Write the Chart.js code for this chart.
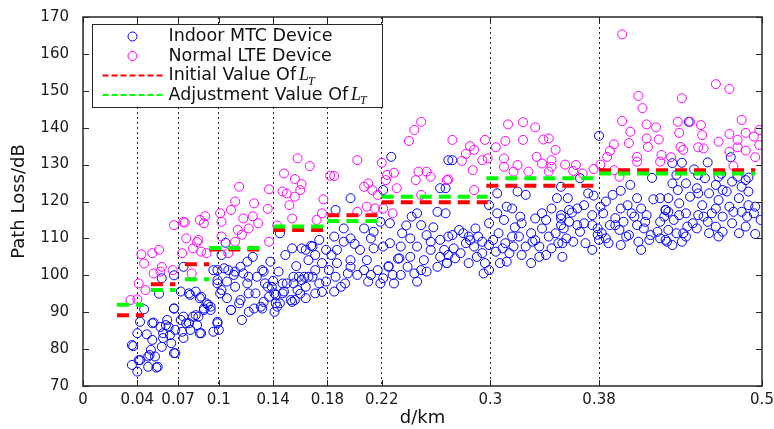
<!DOCTYPE html>
<html>
<head>
<meta charset="utf-8">
<script src="https://cdn.jsdelivr.net/npm/chart.js@4.4.0/dist/chart.umd.min.js"></script>
<style>
  html, body { margin: 0; padding: 0; background: #fff; }
  canvas { display: block; }
</style>
</head>
<body>
<canvas id="chart" width="774" height="429"></canvas>
<script>
// x axis ticks (distance thresholds, km)
const xTicks = [0, 0.04, 0.07, 0.1, 0.14, 0.18, 0.22, 0.3, 0.38, 0.5];

// threshold segments: start / end distance and L_T values (dB)
const segStart = [0.025, 0.050, 0.075, 0.093, 0.140, 0.180, 0.220, 0.297, 0.380];
const segEnd   = [0.045, 0.068, 0.093, 0.132, 0.177, 0.218, 0.298, 0.377, 0.495];
const initialLT = [89.2, 97.6, 103.0, 107.0, 112.3, 116.3, 119.8, 124.3, 128.5];
const adjustLT  = [92.0, 96.0, 98.9, 107.4, 113.2, 114.7, 121.3, 126.3, 127.6];

// Indoor MTC devices [d (km), path loss (dB)]
const mtcPoints = [
  [0.037,80.8],[0.040,73.9],[0.036,75.7],[0.042,77.0],[0.048,75.2],[0.054,75.0],[0.053,78.0],[0.049,78.4],
  [0.040,84.3],[0.047,84.0],[0.052,87.2],[0.051,82.5],[0.058,80.6],[0.067,78.9],[0.059,84.3],[0.063,86.0],
  [0.065,81.6],[0.067,91.0],[0.058,99.2],[0.056,95.0],[0.067,100.0],[0.045,90.8],[0.073,84.7],[0.074,83.0],
  [0.072,87.9],[0.079,94.7],[0.086,93.8],[0.081,88.8],[0.085,88.8],[0.086,84.3],[0.076,87.0],[0.074,102.3],
  [0.092,92.0],[0.094,90.6],[0.101,95.1],[0.089,91.0],[0.099,98.7],[0.099,101.4],
  [0.036,81.1],[0.041,77.0],[0.048,78.0],[0.055,75.2],[0.050,79.8],[0.042,87.4],[0.051,87.0],[0.057,86.0],
  [0.059,83.0],[0.064,83.8],[0.061,86.5],[0.068,85.2],[0.068,78.9],[0.062,87.9],[0.067,91.0],[0.074,88.8],
  [0.078,87.0],[0.079,85.2],[0.083,89.2],[0.087,84.3],[0.089,90.6],[0.096,84.7],[0.099,87.4],[0.094,91.5],
  [0.084,86.5],[0.078,95.1],[0.083,95.6],[0.087,94.2],[0.091,92.4],[0.072,95.6],
  [0.096,101.4],[0.104,101.9],[0.099,97.8],[0.106,98.3],[0.111,100.1],[0.109,90.6],[0.117,87.9],[0.116,93.3],
  [0.122,95.1],[0.126,91.0],[0.131,91.5],[0.133,101.0],[0.141,95.1],[0.143,91.5],[0.133,92.8],[0.153,93.3],
  [0.155,97.8],[0.161,98.7],[0.166,99.6],[0.148,95.6],[0.136,96.9],
  [0.102,105.5],[0.121,103.7],[0.138,103.7],[0.145,111.4],[0.154,107.3],[0.161,107.3],[0.149,105.5],[0.144,101.0],
  [0.150,97.8],[0.159,99.6],[0.166,104.1],[0.171,105.5],[0.176,103.3],[0.181,101.4],[0.164,96.9],[0.174,97.8],
  [0.179,98.3],[0.164,93.8],[0.154,92.8],[0.142,94.7],[0.137,94.2],[0.141,90.1],[0.132,91.0],[0.122,90.1],
  [0.109,90.6],[0.115,92.4],[0.106,93.8],[0.102,96.0],[0.112,96.9],[0.121,97.8],[0.128,99.6],[0.132,101.4],
  [0.112,101.0],[0.107,101.4],[0.145,92.4],[0.147,95.1],[0.155,99.6],[0.127,95.1],[0.099,87.0],[0.100,85.2],
  [0.174,109.6],[0.171,101.4],[0.183,105.5],[0.163,99.6],[0.105,108.8],[0.125,105.0],[0.168,108.0],[0.157,102.5],
  [0.140,98.5],[0.118,100.5],[0.176,95.5],[0.160,95.0],
  [0.139,96.9],[0.147,97.8],[0.158,96.0],[0.169,99.6],[0.171,95.1],[0.142,92.4],[0.156,93.3],[0.134,97.8],
  [0.122,99.6],[0.116,102.3],[0.164,106.9],[0.179,106.9],[0.169,107.8],
  [0.227,132.1],[0.269,131.2],[0.197,120.9],[0.221,123.1],[0.263,123.6],[0.186,117.7],[0.246,116.8],[0.261,117.2],
  [0.242,115.9],[0.249,113.6],[0.226,114.1],[0.219,114.5],[0.207,112.7],[0.192,112.7],[0.214,111.8],[0.185,110.5],
  [0.197,110.0],[0.235,111.4],[0.241,110.0],[0.253,110.9],[0.263,109.6],[0.269,110.5],[0.187,106.9],[0.204,106.9],
  [0.214,107.3],[0.221,107.8],[0.234,107.8],[0.246,107.8],[0.256,106.9],[0.233,104.6],[0.241,105.0],[0.251,104.1],
  [0.263,105.0],[0.268,103.3],[0.187,103.3],[0.197,104.1],[0.209,104.1],[0.217,101.4],[0.186,99.6],[0.195,100.5],
  [0.202,100.1],[0.212,100.1],[0.221,99.2],[0.228,100.1],[0.234,100.1],[0.244,100.5],[0.253,101.0],[0.210,98.3],
  [0.185,95.6],[0.190,96.9],[0.232,104.5],[0.225,102.5],[0.200,108.5],[0.258,113.0],[0.238,113.5],
  [0.192,109.1],[0.212,110.0],[0.226,108.7],[0.256,109.1],[0.266,106.9],[0.197,102.3],[0.207,101.4],[0.225,102.3],
  [0.239,102.3],[0.249,101.4],[0.261,102.3],[0.193,97.8],[0.219,97.8],[0.246,98.3],[0.229,97.8],
  [0.272,131.2],[0.267,123.6],[0.305,122.2],[0.320,122.7],[0.326,121.8],[0.349,120.9],[0.299,119.0],[0.316,118.1],
  [0.305,116.8],[0.310,115.0],[0.299,114.1],[0.267,116.8],[0.338,116.8],[0.345,118.1],[0.341,115.0],[0.323,114.1],
  [0.352,115.4],[0.272,110.9],[0.280,111.4],[0.289,112.7],[0.291,110.5],[0.306,111.4],[0.316,110.5],[0.330,111.4],
  [0.338,112.7],[0.348,111.4],[0.273,107.3],[0.282,108.7],[0.288,107.8],[0.299,108.2],[0.311,108.7],[0.326,107.8],
  [0.336,107.8],[0.350,108.7],[0.269,105.5],[0.278,106.0],[0.294,106.0],[0.304,106.4],[0.314,106.0],[0.323,105.5],
  [0.341,105.5],[0.284,103.3],[0.296,103.3],[0.312,103.7],[0.299,101.4],[0.336,105.0],[0.268,103.3],[0.285,109.5],
  [0.318,113.0],[0.333,109.5],[0.295,100.5],
  [0.277,112.3],[0.284,110.5],[0.294,109.1],[0.302,109.6],[0.309,107.3],[0.317,107.8],[0.321,110.5],[0.331,109.1],
  [0.343,110.5],[0.345,107.3],[0.330,103.3],[0.307,103.3],[0.290,105.0],[0.274,104.6],[0.353,105.0],[0.333,115.4],
  [0.312,118.6],[0.322,115.9],
  [0.380,137.8],[0.366,126.3],[0.419,126.4],[0.352,124.0],[0.372,122.2],[0.376,121.6],[0.403,124.5],[0.396,122.9],
  [0.390,121.8],[0.385,120.0],[0.408,120.9],[0.420,120.6],[0.357,120.9],[0.364,118.1],[0.396,118.1],[0.411,118.1],
  [0.375,116.3],[0.383,116.8],[0.404,116.8],[0.415,116.3],[0.429,117.7],[0.358,114.5],[0.369,114.1],[0.388,113.6],
  [0.398,114.5],[0.408,113.6],[0.425,114.5],[0.354,112.7],[0.366,111.8],[0.379,112.7],[0.395,112.3],[0.413,112.7],
  [0.423,111.8],[0.353,108.7],[0.361,109.1],[0.370,108.7],[0.380,109.6],[0.387,108.7],[0.396,108.2],[0.409,109.1],
  [0.417,109.6],[0.430,109.1],[0.375,106.9],[0.411,106.9],[0.379,111.0],[0.392,115.5],[0.360,117.0],[0.400,110.5],
  [0.356,110.0],[0.364,113.6],[0.375,113.6],[0.382,111.4],[0.385,110.0],[0.392,113.6],[0.402,110.9],[0.406,115.9],
  [0.414,114.5],[0.418,110.9],[0.425,110.0],[0.401,119.0],[0.381,118.6],[0.369,119.0],[0.358,117.7],[0.352,116.3],
  [0.352,113.6],[0.425,120.9],[0.428,115.9],
  [0.446,141.6],[0.460,130.6],[0.477,132.0],[0.434,130.4],[0.441,130.5],[0.450,128.7],[0.458,126.3],[0.478,125.4],
  [0.434,124.9],[0.444,124.9],[0.466,124.5],[0.485,124.0],[0.438,123.1],[0.452,123.6],[0.471,123.1],[0.490,122.7],
  [0.461,122.2],[0.431,120.9],[0.447,121.3],[0.468,120.4],[0.483,120.9],[0.439,119.5],[0.456,119.0],[0.476,118.6],
  [0.490,119.0],[0.431,117.2],[0.444,116.8],[0.453,116.3],[0.463,116.8],[0.485,117.2],[0.494,116.8],[0.435,115.0],
  [0.449,114.1],[0.460,114.5],[0.471,115.9],[0.478,114.1],[0.499,115.0],[0.431,112.3],[0.442,111.4],[0.452,112.7],
  [0.461,111.4],[0.471,111.8],[0.483,111.4],[0.495,111.2],[0.434,108.2],[0.444,110.5],[0.490,126.5],[0.470,127.5],
  [0.429,117.7],[0.439,116.3],[0.457,115.9],[0.466,118.1],[0.479,117.2],[0.489,115.9],[0.495,118.6],[0.453,122.2],
  [0.474,122.7],[0.482,126.7],[0.488,125.8],[0.468,126.7],[0.437,127.2],[0.453,127.2],[0.445,113.2],[0.466,113.2],
  [0.488,113.2],[0.437,111.4],[0.468,110.5],[0.429,109.6],[0.441,109.1]
];

// Normal LTE devices [d (km), path loss (dB)]
const ltePoints = [
  [0.035,93.3],[0.040,93.5],[0.041,97.8],[0.046,96.0],[0.045,103.2],[0.043,105.7],[0.051,106.0],[0.056,106.9],
  [0.052,100.5],[0.058,102.3],[0.057,101.0],[0.067,113.6],[0.073,106.0],[0.076,110.0],[0.081,107.3],[0.085,109.6],
  [0.087,106.4],[0.080,100.5],[0.089,114.1],[0.075,114.3],[0.091,106.0],[0.074,114.5],[0.086,115.0],[0.090,116.0],
  [0.084,109.0],[0.066,101.4],
  [0.115,124.0],[0.137,123.3],[0.112,120.0],[0.109,117.7],[0.101,116.8],[0.102,114.5],[0.118,115.4],[0.125,116.0],
  [0.114,112.3],[0.122,112.7],[0.129,114.1],[0.136,118.0],[0.102,110.5],[0.112,109.1],[0.107,106.0],[0.137,109.1],
  [0.158,131.7],[0.167,129.6],[0.148,127.6],[0.156,126.1],[0.161,124.7],[0.147,122.7],[0.150,122.2],[0.156,121.3],
  [0.160,123.1],[0.152,119.0],[0.154,115.4],[0.177,120.6],[0.176,116.8],[0.172,115.0],[0.182,127.0],[0.126,119.5],
  [0.117,111.0],[0.143,113.5],
  [0.249,141.6],[0.244,139.4],[0.240,136.4],[0.202,131.2],[0.220,130.5],[0.185,126.9],[0.224,127.2],[0.229,127.8],
  [0.223,125.8],[0.247,128.1],[0.253,128.1],[0.245,125.8],[0.256,126.7],[0.268,125.8],[0.210,124.9],[0.213,123.1],
  [0.207,124.0],[0.217,121.8],[0.231,123.6],[0.249,121.8],[0.209,118.6],[0.215,118.1],[0.202,117.2],[0.228,116.8],
  [0.221,118.1],
  [0.313,140.9],[0.324,141.5],[0.333,140.1],[0.272,136.7],[0.296,136.7],[0.311,136.4],[0.324,136.7],[0.339,136.8],
  [0.343,137.1],[0.285,135.0],[0.288,134.0],[0.304,134.7],[0.282,132.9],[0.279,131.0],[0.294,131.2],[0.298,131.7],
  [0.310,131.7],[0.334,132.1],[0.348,134.0],[0.287,128.5],[0.310,129.4],[0.320,129.9],[0.317,128.1],[0.328,128.1],
  [0.338,130.3],[0.345,129.4],[0.343,128.1],[0.269,126.0],[0.288,123.1],[0.345,131.2],[0.361,128.3],
  [0.397,165.3],[0.409,148.6],[0.412,145.3],[0.397,141.8],[0.403,138.9],[0.415,140.9],[0.422,140.1],[0.415,137.1],
  [0.424,136.8],[0.391,135.5],[0.402,135.8],[0.416,134.8],[0.388,133.7],[0.386,132.1],[0.408,132.1],[0.408,130.8],
  [0.426,132.6],[0.425,130.8],[0.355,130.0],[0.363,129.9],[0.368,127.6],[0.376,128.8],[0.381,130.0],[0.391,128.5],
  [0.395,126.7],
  [0.466,151.8],[0.476,150.5],[0.441,148.0],[0.438,141.6],[0.447,141.6],[0.455,140.7],[0.485,142.1],[0.439,138.6],
  [0.456,138.0],[0.476,138.3],[0.488,138.6],[0.498,139.4],[0.494,137.6],[0.482,136.7],[0.468,136.2],[0.440,134.8],
  [0.442,134.0],[0.453,134.7],[0.457,134.4],[0.476,133.5],[0.488,133.8],[0.482,134.7],[0.498,135.3],[0.495,132.0],
  [0.433,132.0],[0.479,129.6]
];

const FONT = 'DejaVu Sans';

function toXY(points) {
  return points.map(p => ({ x: p[0], y: p[1] }));
}

function stepData(values) {
  const out = [];
  values.forEach((v, i) => {
    out.push({ x: segStart[i], y: v }, { x: segEnd[i], y: v }, { x: segEnd[i], y: null });
  });
  return out;
}

// MATLAB-like axes box, inward ticks and boxed legend
const matlabAxes = {
  id: 'matlabAxes',
  afterDatasetsDraw(chart) {
    const { ctx, chartArea: a, scales: { x, y } } = chart;
    ctx.save();
    ctx.strokeStyle = '#262626';
    ctx.lineWidth = 1;
    ctx.beginPath();
    xTicks.forEach(v => {
      const px = Math.round(x.getPixelForValue(v)) + 0.5;
      ctx.moveTo(px, a.bottom); ctx.lineTo(px, a.bottom - 6);
      ctx.moveTo(px, a.top); ctx.lineTo(px, a.top + 6);
    });
    y.ticks.forEach(t => {
      const py = Math.round(y.getPixelForValue(t.value)) + 0.5;
      ctx.moveTo(a.left, py); ctx.lineTo(a.left + 6, py);
      ctx.moveTo(a.right, py); ctx.lineTo(a.right - 6, py);
    });
    ctx.stroke();
    ctx.lineWidth = 1.5;
    ctx.strokeRect(a.left, a.top, a.right - a.left, a.bottom - a.top);
    ctx.restore();
  },
  afterDraw(chart) {
    const { ctx, chartArea: a } = chart;
    const bx = a.left + 9.5, by = a.top + 7.5, bw = 290, bh = 83;
    ctx.save();
    ctx.fillStyle = '#fff';
    ctx.fillRect(bx, by, bw, bh);
    ctx.strokeStyle = '#262626';
    ctx.lineWidth = 1;
    ctx.strokeRect(bx, by, bw, bh);
    ctx.textBaseline = 'middle';
    chart.data.datasets.forEach((ds, i) => {
      const cy = by + 12 + i * 19.5;
      if (ds.showLine) {
        ctx.strokeStyle = ds.borderColor;
        ctx.lineWidth = 2;
        ctx.setLineDash([6, 3]);
        ctx.beginPath();
        ctx.moveTo(bx + 10, cy); ctx.lineTo(bx + 71, cy);
        ctx.stroke();
        ctx.setLineDash([]);
      } else {
        ctx.strokeStyle = ds.pointBorderColor;
        ctx.lineWidth = 1;
        ctx.beginPath();
        ctx.arc(bx + 40, cy, 4.5, 0, Math.PI * 2);
        ctx.stroke();
      }
      ctx.fillStyle = '#111';
      ctx.font = '17.5px "' + FONT + '"';
      let tx = bx + 76;
      ctx.fillText(ds.label, tx, cy);
      if (ds.showLine) {
        tx += ctx.measureText(ds.label).width + 3;
        ctx.font = 'italic 18px "Liberation Serif"';
        ctx.fillText('L', tx, cy);
        tx += ctx.measureText('L').width;
        ctx.font = 'italic 12px "Liberation Serif"';
        ctx.fillText('T', tx - 1, cy + 6);
      }
    });
    ctx.restore();
  }
};

new Chart(document.getElementById('chart'), {
  type: 'scatter',
  data: {
    datasets: [
      {
        label: 'Indoor MTC Device',
        data: toXY(mtcPoints),
        pointStyle: 'circle',
        pointRadius: 4.5,
        pointBorderWidth: 1,
        pointBorderColor: '#0000ff',
        pointBackgroundColor: 'rgba(0,0,0,0)',
        order: 3
      },
      {
        label: 'Normal LTE Device',
        data: toXY(ltePoints),
        pointStyle: 'circle',
        pointRadius: 4.5,
        pointBorderWidth: 1,
        pointBorderColor: '#ff00ff',
        pointBackgroundColor: 'rgba(0,0,0,0)',
        order: 2
      },
      {
        label: 'Initial Value Of',
        data: stepData(initialLT),
        showLine: true,
        borderColor: '#ff0000',
        borderWidth: 4,
        borderDash: [12, 7],
        pointRadius: 0,
        order: 1
      },
      {
        label: 'Adjustment Value Of',
        data: stepData(adjustLT),
        showLine: true,
        borderColor: '#00ff00',
        borderWidth: 4,
        borderDash: [12, 7],
        pointRadius: 0,
        order: 0
      }
    ]
  },
  options: {
    responsive: false,
    animation: false,
    layout: { padding: { top: 17, right: 12, left: 0, bottom: 0 } },
    plugins: { legend: { display: false }, tooltip: { enabled: false } },
    scales: {
      x: {
        type: 'linear',
        min: 0,
        max: 0.5,
        afterBuildTicks: s => { s.ticks = xTicks.map(v => ({ value: v })); },
        afterFit: s => { s.height = 43; s.paddingLeft = 0; s.paddingRight = 0; },
        grid: {
          drawTicks: false,
          lineWidth: 1,
          color: c => (c.tick && c.tick.value > 0 && c.tick.value < 0.5) ? '#222' : 'rgba(0,0,0,0)'
        },
        border: { display: false, dash: [2, 3] },
        ticks: {
          autoSkip: false,
          maxRotation: 0,
          padding: 5,
          color: '#1a1a1a',
          font: { family: FONT, size: 15 },
          callback: v => String(v)
        },
        title: {
          display: true,
          text: 'd/km',
          color: '#111',
          font: { family: FONT, size: 18 },
          padding: { top: 0, bottom: 0 }
        }
      },
      y: {
        min: 70,
        max: 170,
        afterFit: s => { s.width = 83; },
        grid: { display: false },
        border: { display: false },
        ticks: {
          stepSize: 10,
          padding: 6,
          color: '#1a1a1a',
          font: { family: FONT, size: 15 }
        },
        title: {
          display: true,
          text: 'Path Loss/dB',
          color: '#111',
          font: { family: FONT, size: 18 },
          padding: { top: 9, bottom: 0 }
        }
      }
    }
  },
  plugins: [matlabAxes]
});
</script>
</body>
</html>
